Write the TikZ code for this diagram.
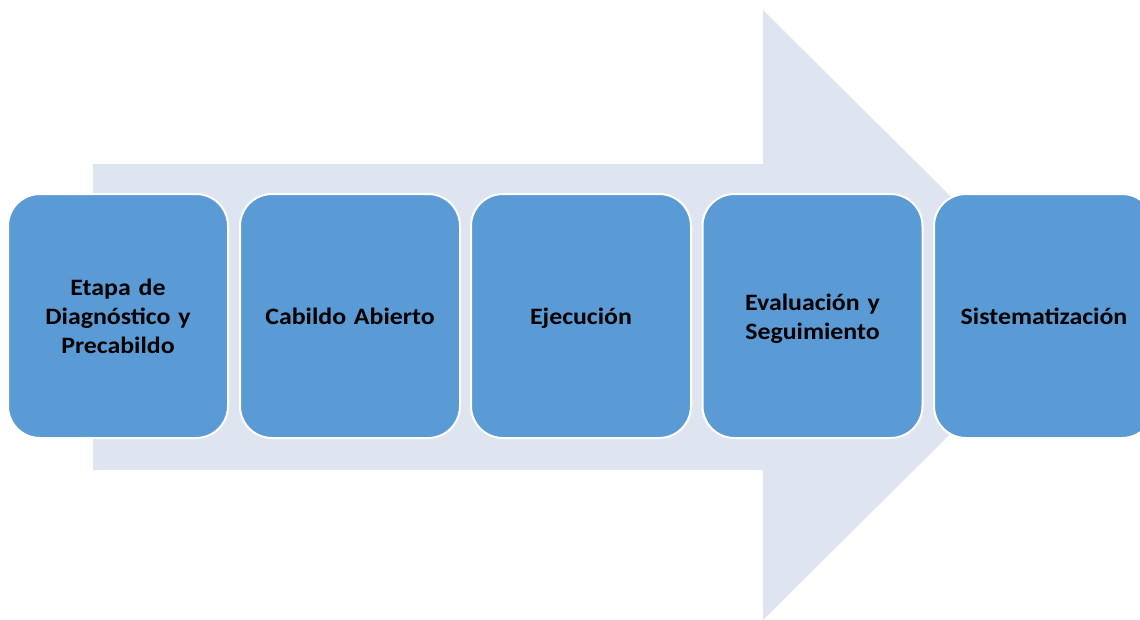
\documentclass[tikz,border=0pt]{standalone}
\usepackage{fontspec}
\setmainfont{Carlito}[FakeStretch=1.1]
\begin{document}
\begin{tikzpicture}[x=1pt,y=-1pt,
  stagebox/.style={draw=white,line width=2pt,fill=boxblue,rounded corners=32pt,
    minimum width=220pt,minimum height=244pt,inner sep=0pt,
    text width=210pt,align=center,font=\fontsize{23.5}{29}\selectfont\bfseries,text=black,
    execute at begin node={\rule{0pt}{26.3pt}}, execute at end node={\strut}},
  bigarrow/.style={fill=arrowbg,draw=none}]
\definecolor{boxblue}{RGB}{91,155,213}
\definecolor{arrowbg}{RGB}{222,229,240}
\useasboundingbox (0,0) rectangle (1140,619);
\begin{scope}
\clip (0,0) rectangle (1140,619);
\fill[bigarrow] (93,164) -- (763,164) -- (763,10) -- (1070,315) -- (763,620) -- (763,470) -- (93,470) -- cycle;
\node[stagebox] (s1) at (118,316) {Etapa de\\Diagnóstico y\\Precabildo};
\node[stagebox] (s2) at (350,316) {Cabildo Abierto};
\node[stagebox] (s3) at (581,316) {Ejecución};
\node[stagebox] (s4) at (812.5,316) {Evaluación y\\Seguimiento};
\node[stagebox] (s5) at (1044,316) {Sistematización};
\end{scope}
\end{tikzpicture}
\end{document}
